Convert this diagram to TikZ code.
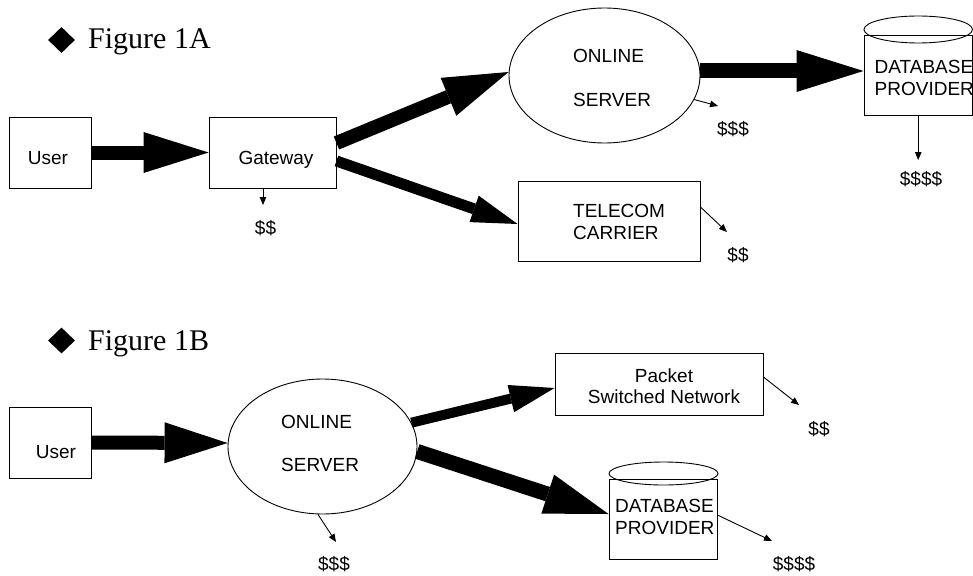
\documentclass[tikz,border=0pt]{standalone}
\usepackage{fontspec}
\setmainfont{Liberation Serif}
\setsansfont{Liberation Sans}
\usetikzlibrary{arrows.meta,shapes.geometric}
\newcommand\lefttwo[3]{\vtop{\baselineskip=#3\lineskiplimit=-50pt\halign{##\hfil\cr#1\cr#2\cr}}}
\newcommand\centwo[3]{\vtop{\baselineskip=#3\lineskiplimit=-50pt\halign{\hfil##\hfil\cr#1\cr#2\cr}}}
\begin{document}
\begin{tikzpicture}[x=1pt,y=-1pt,
  box/.style={draw,line width=0.9pt,inner sep=0pt},
  oval/.style={draw,ellipse,line width=0.9pt,inner sep=0pt},
  lbl/.style={inner sep=0pt,anchor=base,font=\sffamily\fontsize{19}{22}\selectfont},
  lblw/.style={inner sep=0pt,anchor=base west,font=\sffamily\fontsize{19}{22}\selectfont},
  fig/.style={inner sep=0pt,anchor=base west,font=\fontsize{30}{36}\selectfont},
  dia/.style={diamond,fill,inner sep=0pt,minimum width=27pt,minimum height=26pt},
  fat/.style n args={3}{line width=#1,-{Triangle[length=#2,width=#3,line width=0pt]}},
  thin/.style={line width=0.9pt,-{Triangle[length=8pt,width=6.5pt]}}]
\useasboundingbox (0,0) rectangle (973,575);

% ---------- Figure 1A ----------
\node[dia] (diaA) at (61.5,40) {};
\node[fig] (figA) at (88,49) {Figure 1A};

\node[box,minimum width=82pt,minimum height=71pt] (userA) at (50,152.5) {};
\node[lbl] (userAt) at (48,164) {User};
\node[box,minimum width=127pt,minimum height=71pt] (gwA) at (272.5,152.5) {};
\node[lbl] (gwAt) at (276,164) {Gateway};
\node[oval,minimum width=191pt,minimum height=135pt] (srvA) at (604.5,75.5) {};
\node[lblw] (srvAt) at (573,63) {\lefttwo{ONLINE}{SERVER}{44pt}};
\node[box,minimum width=182pt,minimum height=80pt] (telA) at (609,221) {};
\node[lblw] (telAt) at (573,217) {\lefttwo{TELECOM}{CARRIER}{22pt}};
\node[box,minimum width=108.5pt,minimum height=80pt] (dbA) at (918.2,75) {};
\node[oval,minimum width=108.5pt,minimum height=27pt] (dbAtop) at (918.2,29.5) {};
\node[lblw] (dbAt) at (874.5,74) {\lefttwo{DATABASE}{PROVIDER}{22pt}};

\draw[fat={14pt}{65pt}{41pt}] (userA.east) -- (gwA.west);
\draw[fat={14pt}{65pt}{41pt}] ([yshift=9.5pt]gwA.east) -- ([yshift=3.5pt]srvA.west);
\draw[fat={11pt}{46pt}{28pt}] ([yshift=-8.5pt]gwA.east) -- ([yshift=-3pt]telA.west);
\draw[fat={15pt}{67pt}{42pt}] ([yshift=4.5pt]srvA.east) -- ([yshift=4pt]dbA.west);

\coordinate (e1) at (263,205);
\coordinate (e2) at (718,106);
\coordinate (e3) at (918.2,160);
\coordinate (e4) at (727,232);
\draw[thin] ([xshift=-9.5pt]gwA.south) -- (e1);
\draw[thin] (srvA.-15) -- (e2);
\draw[thin] (dbA.south) -- (e3);
\draw[thin] ([yshift=14pt]telA.east) -- (e4);
\node[lbl] (d1) at (265.5,234) {\$\$};
\node[lbl] (d2) at (733,135) {\$\$\$};
\node[lbl] (d3) at (921,185) {\$\$\$\$};
\node[lbl] (d4) at (738,261) {\$\$};

% ---------- Figure 1B ----------
\node[dia] (diaB) at (61.5,340.5) {};
\node[fig] (figB) at (88,350) {Figure 1B};

\node[box,minimum width=82pt,minimum height=71pt] (userB) at (50,442.5) {};
\node[lbl] (userBt) at (56,458) {User};
\node[oval,minimum width=189pt,minimum height=135pt] (srvB) at (322.5,446.5) {};
\node[lblw] (srvBt) at (281,428) {\lefttwo{ONLINE}{SERVER}{43pt}};
\node[box,minimum width=208pt,minimum height=62pt] (pktB) at (659,384) {};
\node[lbl] (pktBt) at (664,382) {\centwo{Packet}{Switched Network}{21pt}};
\node[box,minimum width=108pt,minimum height=80pt] (dbB) at (663,519) {};
\node[oval,minimum width=109pt,minimum height=23pt] (dbBtop) at (663.5,473.5) {};
\node[lblw] (dbBt) at (615,512) {\lefttwo{DATABASE}{PROVIDER}{22pt}};

\draw[fat={14pt}{63pt}{41pt}] (userB.east) -- ([yshift=3.5pt]srvB.west);
\draw[fat={10pt}{45pt}{28pt}] (srvB.15) -- ([yshift=-4pt]pktB.west);
\draw[fat={15pt}{64pt}{41pt}] (srvB.-3) -- ([yshift=5pt]dbB.west);

\coordinate (f1) at (336,542);
\coordinate (f2) at (799,405);
\coordinate (f3) at (772,541);
\draw[thin] ([xshift=-4.5pt]srvB.south) -- (f1);
\draw[thin] ([yshift=7pt]pktB.east) -- (f2);
\draw[thin] ([yshift=4pt]dbB.east) -- (f3);
\node[lbl] (g1) at (334,570) {\$\$\$};
\node[lbl] (g2) at (819,435) {\$\$};
\node[lbl] (g3) at (794,570) {\$\$\$\$};
\end{tikzpicture}
\end{document}
